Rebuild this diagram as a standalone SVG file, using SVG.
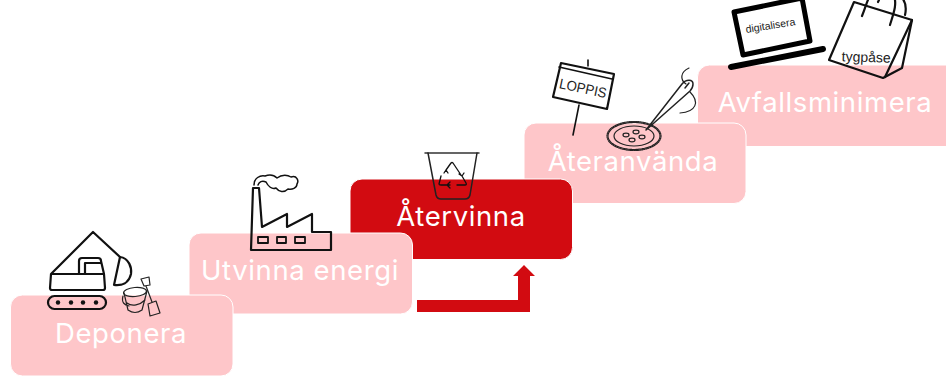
<svg xmlns="http://www.w3.org/2000/svg" width="946" height="376" viewBox="0 0 946 376">
<style>
.box{fill:#fec6c9;stroke:#fff;stroke-width:1}
.red{fill:#d20b11}
.lab{font-family:Inter,"Noto Sans",sans-serif;font-size:27.500px;fill:#fff;text-anchor:middle;letter-spacing:.6px}
.ic{fill:none;stroke:#111;stroke-width:2.200;stroke-linejoin:round;stroke-linecap:round}
.thin{fill:none;stroke:#222;stroke-width:1.200;stroke-linejoin:round;stroke-linecap:round}
.tx{font-family:"Liberation Sans",Arial,sans-serif;fill:#222;text-anchor:middle}
</style>
<rect width="946" height="376" fill="#fff"/>
<g id="avfallsminimera">
<rect class="box" x="697.500" y="65" width="262" height="81.500" rx="12"/>
<text class="lab" x="825" y="112">Avfallsminimera</text>
<g id="laptop">
<path d="M734 12L802 -2L810 41L743 55Z" fill="#fff" stroke="#000" stroke-width="5" stroke-linejoin="round"/>
<path d="M731 67L823 49" fill="none" stroke="#000" stroke-width="6" stroke-linecap="round"/>
<text class="tx" font-size="10.500" transform="translate(771 29) rotate(-9)">digitalisera</text>
</g>
<g id="bag">
<path class="ic" d="M854 2L912 20L902 68L883 78L829 60Z"/>
<path class="ic" d="M912 20L885 77M862 16C866 6 868 -2 870 -4M878 2C880 -2 880 -3 880 -4M890 25C894 12 897 4 894 -4M905 15C907 6 905 0 900 -4"/>
<text class="tx" font-size="14" transform="translate(866 62) rotate(2)">tygpåse</text>
</g>
</g>
<g id="ateranvanda">
<rect class="box" x="524" y="123" width="222" height="80.500" rx="12"/>
<text class="lab" x="633" y="171">Återanvända</text>
<g id="loppis">
<path class="ic" d="M561 63L614 74L607 109L553 97Z"/>
<path class="ic" style="stroke-width:1.600" d="M559 67L612 79M588 60V66M579 105L573 135"/>
<text class="tx" font-size="14" transform="translate(582 93) rotate(12)" textLength="48" lengthAdjust="spacingAndGlyphs">LOPPIS</text>
</g>
<g id="button">
<ellipse class="thin" cx="634" cy="136" rx="26" ry="13.500" stroke-dasharray="2 .6"/>
<ellipse class="thin" cx="634" cy="136" rx="27" ry="14.500" stroke-dasharray="1 1"/>
<ellipse class="thin" cx="634" cy="136" rx="20" ry="10"/>
<ellipse class="thin" cx="626" cy="135" rx="3" ry="1.800"/>
<ellipse class="thin" cx="636" cy="132" rx="3" ry="1.800"/>
<ellipse class="thin" cx="642" cy="137" rx="3" ry="1.800"/>
<ellipse class="thin" cx="632" cy="140" rx="3" ry="1.800"/>
<path class="thin" style="stroke-width:1.500" d="M646 130L682 84C686 79 693 79 693 84C693 87 692 89 690 91ZM685 88L689 83"/>
<path class="thin" d="M689 68C680 72 680 80 686 84M690 92C700 102 696 112 680 113"/>
</g>
</g>
<g id="atervinna">
<rect class="box red" x="350" y="179" width="222.500" height="80.500" rx="12"/>
<text class="lab" x="461" y="226">Återvinna</text>
<g id="bin">
<path class="ic" style="stroke-width:1.500;stroke:#333" d="M425 153H479"/>
<path class="ic" style="stroke-width:1.500;stroke:#222" d="M428 153L436 195Q437 199 441 199H465Q469 199 470 195L477 153"/>
<path class="thin" style="stroke-width:1.300;stroke:#111" d="M446 170L451 163Q452 162 453 163L461 175M441 176L439 184Q439 185 441 185H450M457 185H465Q467 185 466 183L462 176M444 173L446 170L448 173M450 182L447 185L450 188M459 174L462 176L464 173"/>
</g>
</g>
<g id="utvinna-energi">
<rect class="box" x="189" y="233" width="223.500" height="81" rx="12"/>
<text class="lab" x="300" y="280">Utvinna energi</text>
<g id="factory">
<path class="ic" d="M251 250L253 188H259L262 227L287 214V227L312 214V232H331V250Z"/>
<path class="ic" style="stroke-width:1.800" d="M258 237H268V243H258ZM277 237H286V243H277ZM295 237H305V243H295Z"/>
<path class="ic" style="stroke-width:1.500" d="M254 185C254 178 260 175 265 176C270 174 274 175 277 178C282 174 288 175 291 177C297 175 299 181 297 184C297 188 292 190 288 189C284 193 279 192 276 188C272 190 268 186 266 182C262 180 259 182 258 185"/>
</g>
</g>
<g id="deponera">
<rect class="box" x="10.500" y="295" width="222.500" height="81" rx="12"/>
<text class="lab" x="121" y="343">Deponera</text>
<g id="excavator">
<path class="ic" d="M51 274L93 232L120 257M51 274L50 288Q50 290 52 290H103Q105 290 105 288L104 274ZM51 274H104M79 274V261Q79 258 82 258H98Q101 258 101 261L104 274M85 274V263H101"/>
<path class="ic" d="M120 257C129 258 132 268 131 274C129 283 122 286 114 285Z"/>
<rect class="ic" x="48" y="296" width="58" height="13" rx="6.500"/>
<g fill="#111"><circle cx="58" cy="302.500" r="2.200"/><circle cx="71" cy="302.500" r="2.200"/><circle cx="83" cy="302.500" r="2.200"/><circle cx="96" cy="302.500" r="2.200"/></g>
</g>
<g id="bucket">
<ellipse class="thin" cx="135" cy="292" rx="11.500" ry="4.500" transform="rotate(-5 135 292)"/>
<path class="thin" d="M124 293L128 310Q135 315 142 310L147 291M123 296C121 303 125 305 129 306M127 303C132 307 140 305 145 300"/>
<path class="thin" d="M141 279L149 277L150 285L144 286ZM146 286L152 302M148 304L156 301L160 313L150 316Z"/>
</g>
</g>
<g id="connectors">
<path class="red" d="M417 300H518V276H513L524 265L535 276H530V312H417Z"/>
</g>
</svg>
